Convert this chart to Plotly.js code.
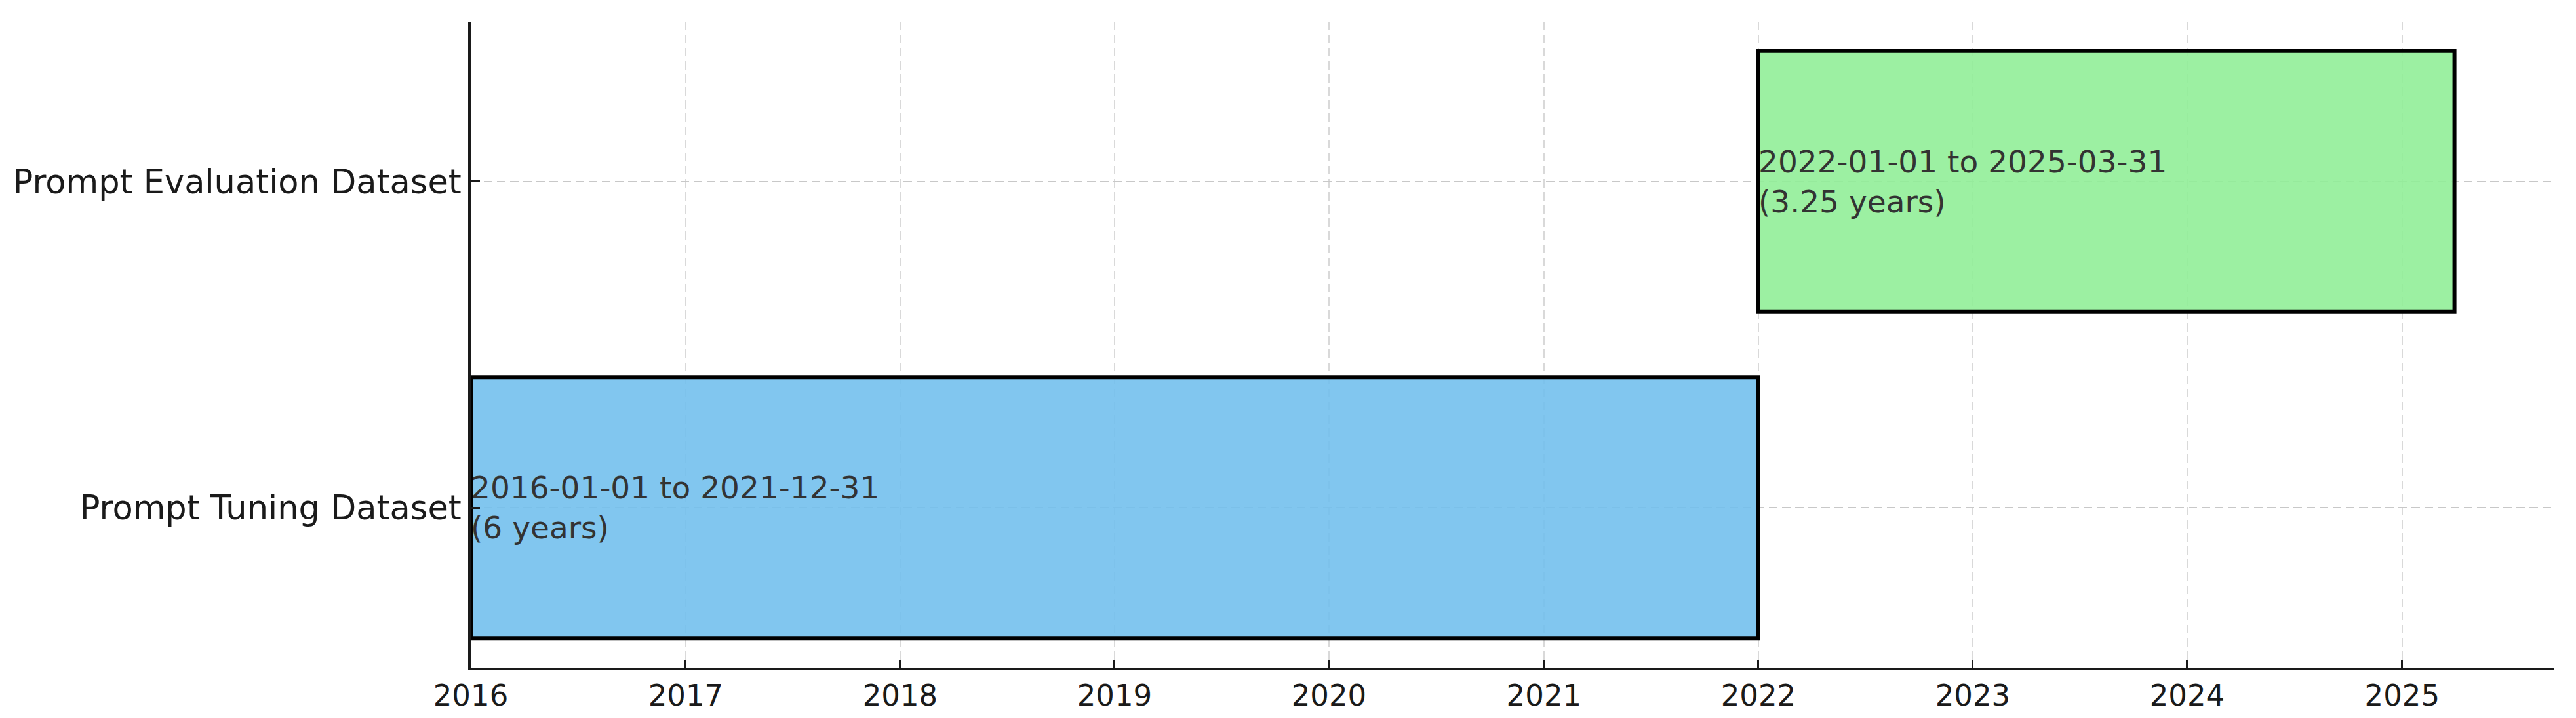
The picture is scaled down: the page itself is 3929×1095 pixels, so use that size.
<!DOCTYPE html>
<html>
<head>
<meta charset="utf-8">
<script src="https://cdn.plot.ly/plotly-3.0.1.min.js"></script>
<style>html,body{margin:0;padding:0;background:#fff;}#chart{width:3929px;height:1095px;}</style>
</head>
<body>
<div id="chart"></div>
<script>
// Data
const datasets = ['Prompt Tuning Dataset', 'Prompt Evaluation Dataset'];
const startDates = ['2016-01-01', '2022-01-01'];
const endDates = ['2021-12-31', '2025-03-31'];
const durationLabels = ['6 years', '3.25 years'];
const barColors = ['rgba(112,190,237,0.88)', 'rgba(142,238,149,0.88)'];
const xRange = ['2016-01-01', '2025-09-16'];

const durationsMs = startDates.map((s, i) => Date.parse(endDates[i]) - Date.parse(s));

const trace = {
  type: 'bar',
  orientation: 'h',
  y: datasets,
  x: durationsMs,
  base: startDates,
  width: 0.8,
  marker: { color: barColors, line: { color: '#000000', width: 6 } },
  hoverinfo: 'skip',
  showlegend: false
};

const annotations = datasets.map((d, i) => ({
  x: startDates[i],
  y: d,
  xref: 'x', yref: 'y',
  text: startDates[i] + ' to ' + endDates[i] + '<br>(' + durationLabels[i] + ')',
  showarrow: false,
  xanchor: 'left',
  yanchor: 'middle',
  align: 'left',
  xshift: -2,
  font: { family: 'DejaVu Sans', size: 47, color: '#333333' }
}));

const layout = {
  width: 3929,
  height: 1095,
  margin: { l: 718, r: 34, t: 33, b: 77, pad: 0 },
  paper_bgcolor: '#ffffff',
  plot_bgcolor: '#ffffff',
  font: { family: 'DejaVu Sans', color: '#1a1a1a' },
  showlegend: false,
  xaxis: {
    type: 'date',
    range: xRange,
    dtick: 'M12',
    tick0: '2016-01-01',
    tickformat: '%Y',
    showline: true,
    linecolor: '#1a1a1a',
    linewidth: 4,
    ticks: 'inside',
    ticklen: 12,
    tickwidth: 3,
    tickcolor: '#1a1a1a',
    tickfont: { family: 'DejaVu Sans', size: 45, color: '#1a1a1a' },
    showgrid: true,
    gridcolor: '#d9d9d9',
    gridwidth: 2,
    griddash: '13px,7px',
    zeroline: false,
    fixedrange: true
  },
  yaxis: {
    type: 'category',
    range: [-0.49, 1.49],
    showline: true,
    linecolor: '#1a1a1a',
    linewidth: 4,
    ticks: 'inside',
    ticklen: 14,
    tickwidth: 3,
    tickcolor: '#1a1a1a',
    tickfont: { family: 'DejaVu Sans', size: 51, color: '#1a1a1a' },
    ticklabelstandoff: 0,
    showgrid: true,
    gridcolor: '#c8c8c8',
    gridwidth: 2,
    griddash: '13px,7px',
    zeroline: false,
    fixedrange: true
  },
  annotations: annotations
};

Plotly.newPlot('chart', [trace], layout, { staticPlot: true, displayModeBar: false });
</script>
</body>
</html>
